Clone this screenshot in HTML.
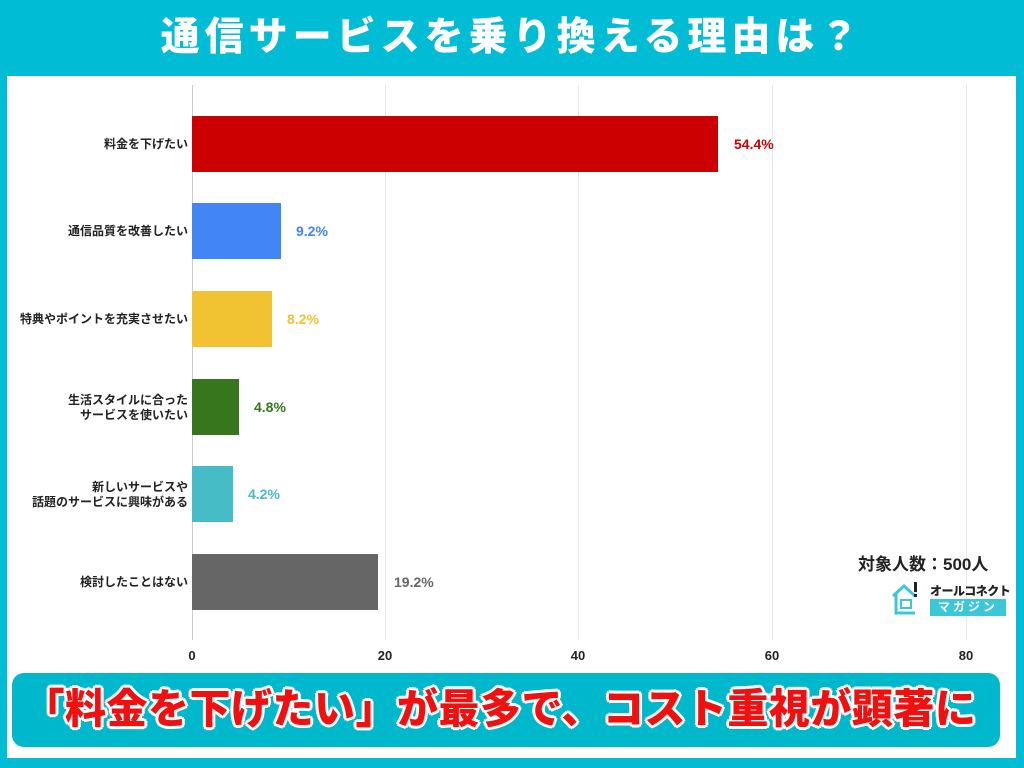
<!DOCTYPE html>
<html><head><meta charset="utf-8"><style>
body{margin:0;width:1024px;height:768px;background:#00bcd4;position:relative;overflow:hidden;font-family:"Liberation Sans","Noto Sans CJK JP",sans-serif}
.title{position:absolute;left:0;top:0;width:1024px;height:76px;line-height:76px;text-align:center;color:#fff;font-size:39px;font-weight:900;letter-spacing:5px}
.panel{position:absolute;left:7px;top:76px;width:1009px;height:682px;background:#fff}
.grid{position:absolute;top:85px;height:555px;width:1px;background:#e8e8e8}
.axis{position:absolute;left:192px;top:85px;height:555px;width:1px;background:#ccc}
.bar{position:absolute;left:192px;height:56px}
.lab{position:absolute;right:836px;font-size:12px;font-weight:bold;color:#222;text-align:right;line-height:15px}
.val{position:absolute;font-size:14px;font-weight:bold}
.tick{position:absolute;top:648px;font-size:13px;font-weight:bold;color:#222;width:40px;margin-left:-20px;text-align:center}
.banner{position:absolute;left:12px;top:673px;width:988px;height:74px;border-radius:12px;background:#00b8cc}
.btxt{position:absolute;left:0;top:673px;width:1000px;height:74px;text-align:center;line-height:72px;font-size:41px;font-weight:900;color:#f01010;white-space:nowrap;letter-spacing:0.5px;text-shadow:3px 0 #fff,-3px 0 #fff,0 3px #fff,0 -3px #fff,2px 2px #fff,-2px 2px #fff,2px -2px #fff,-2px -2px #fff}
</style></head><body>
<div class="title">通信サービスを乗り換える理由は？</div>
<div class="panel"></div>
<div class="grid" style="left:385px"></div>
<div class="grid" style="left:578px"></div>
<div class="grid" style="left:772px"></div>
<div class="grid" style="left:966px"></div>
<div class="axis"></div>

<div class="bar" style="top:116px;width:526px;background:#cc0000"></div>
<div class="bar" style="top:203px;width:89px;background:#4285f4"></div>
<div class="bar" style="top:291px;width:80px;background:#f1c232"></div>
<div class="bar" style="top:379px;width:47px;background:#38761d"></div>
<div class="bar" style="top:466px;width:41px;background:#46bdc6"></div>
<div class="bar" style="top:554px;width:186px;background:#666666"></div>

<div class="lab" style="top:137px">料金を下げたい</div>
<div class="lab" style="top:224px">通信品質を改善したい</div>
<div class="lab" style="top:312px">特典やポイントを充実させたい</div>
<div class="lab" style="top:393px">生活スタイルに合った<br>サービスを使いたい</div>
<div class="lab" style="top:480px">新しいサービスや<br>話題のサービスに興味がある</div>
<div class="lab" style="top:575px">検討したことはない</div>

<div class="val" style="left:734px;top:136px;color:#cc0000">54.4%</div>
<div class="val" style="left:296px;top:223px;color:#4285f4">9.2%</div>
<div class="val" style="left:287px;top:311px;color:#f1c232">8.2%</div>
<div class="val" style="left:254px;top:399px;color:#38761d">4.8%</div>
<div class="val" style="left:248px;top:486px;color:#46bdc6">4.2%</div>
<div class="val" style="left:394px;top:574px;color:#666">19.2%</div>

<div class="tick" style="left:192px">0</div>
<div class="tick" style="left:385px">20</div>
<div class="tick" style="left:578px">40</div>
<div class="tick" style="left:772px">60</div>
<div class="tick" style="left:966px">80</div>

<div style="position:absolute;left:858px;top:550px;font-size:17px;font-weight:bold;color:#222">対象人数：500人</div>
<svg style="position:absolute;left:890px;top:580px" width="30" height="36" viewBox="0 0 30 36"><path d="M3 16 L14 6 L25 16 M6 14 V33 H25" fill="none" stroke="#3cc7d8" stroke-width="3"/><rect x="11" y="20" width="10" height="8" fill="none" stroke="#3cc7d8" stroke-width="2"/><rect x="24" y="2" width="3" height="10" fill="#222"/><rect x="24" y="14" width="3" height="3" fill="#222"/></svg>
<div style="position:absolute;left:930px;top:582px;font-size:12px;font-weight:900;color:#222;letter-spacing:-0.5px">オールコネクト</div>
<div style="position:absolute;left:930px;top:599px;width:76px;height:17px;background:#3cc7d8;color:#fff;font-size:12px;font-weight:bold;text-align:center;line-height:17px;letter-spacing:3px">マガジン</div>

<div class="banner"></div>
<div class="btxt">「料金を下げたい」が最多で、コスト重視が顕著に</div>
</body></html>
